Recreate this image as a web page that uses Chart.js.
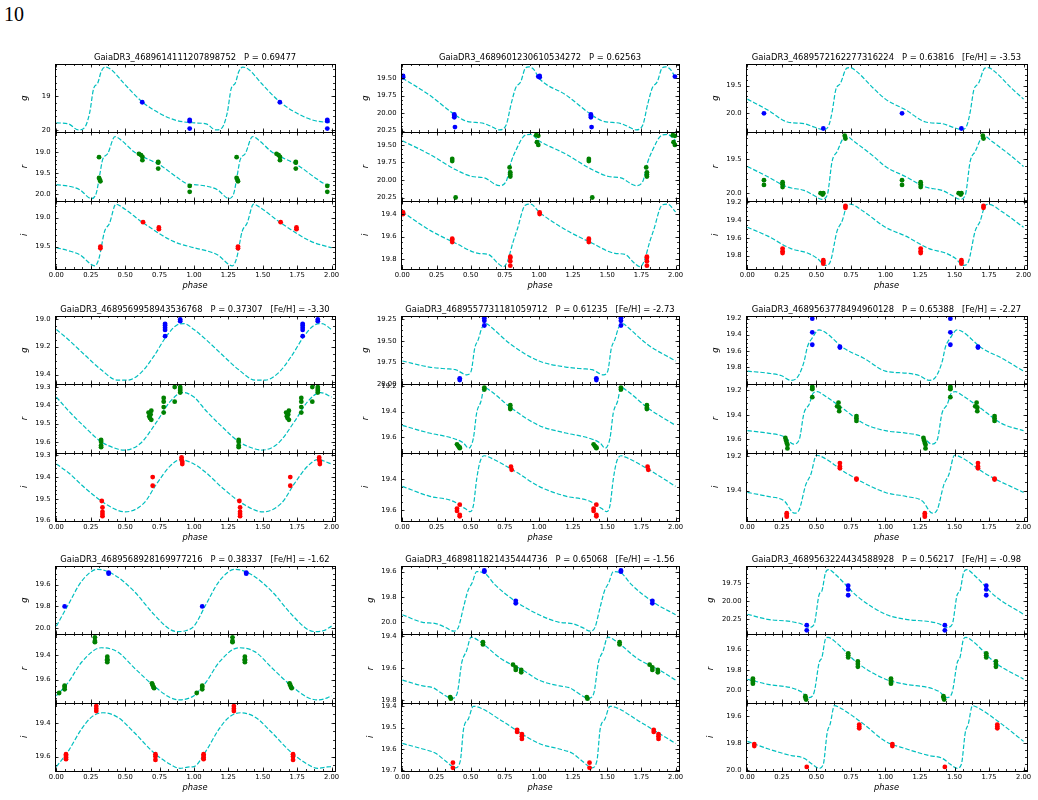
<!DOCTYPE html>
<html>
<head>
<meta charset="utf-8">
<script src="https://cdn.jsdelivr.net/npm/chart.js@4.4.1/dist/chart.umd.min.js"></script>
<style>
  body { margin: 0; background: #fff; width: 1038px; height: 800px; position: relative; overflow: hidden; }
  canvas { position: absolute; }
  #fignum { position: absolute; left: 4px; top: 4px; font: 20px "Liberation Serif", serif; line-height: 20px; color: #000; }
</style>
</head>
<body>
<div id="fignum">10</div>
<script>
// star ids, periods and metallicities (null = not given)
const sourceIds = [
  '4689614111207898752', '4689601230610534272', '4689572162277316224',
  '4689569958943536768', '4689557731181059712', '4689563778494960128',
  '4689568928169977216', '4689811821435444736', '4689563224434588928'
];
const periods = ['0.69477', '0.62563', '0.63816', '0.37307', '0.61235', '0.65388', '0.38337', '0.65068', '0.56217'];
const fehValues = [null, null, '-3.53', '-3.30', '-2.73', '-2.27', '-1.62', '-1.56', '-0.98'];

const phaseTicks = [0, 0.25, 0.5, 0.75, 1, 1.25, 1.5, 1.75, 2];

// magnitude ranges [bright, faint] per panel
const gRange = [[18.05, 20.07], [19.30, 20.275], [19.105, 20.36], [18.98, 19.47], [19.21, 20.0], [19.166, 20.02], [19.43, 20.055], [19.555, 20.095], [19.52, 20.455]];
const rRange = [[18.54, 20.16], [19.32, 20.295], [19.11, 20.11], [19.285, 19.66], [19.184, 19.726], [19.15, 19.71], [19.225, 19.79], [19.387, 19.815], [19.45, 20.12]];
const iRange = [[18.71, 19.885], [19.28, 19.89], [19.18, 19.95], [19.288, 19.602], [19.23, 19.67], [19.18, 19.575], [19.28, 19.686], [19.383, 19.703], [19.4975, 20.005]];

const gTicks = [[19, 20], [19.5, 19.75, 20, 20.25], [19.5, 20], [19, 19.2, 19.4], [19.25, 19.5, 19.75, 20], [19.2, 19.4, 19.6, 19.8], [19.6, 19.8, 20], [19.6, 19.8, 20], [19.75, 20, 20.25]];
const rTicks = [[19, 19.5, 20], [19.5, 19.75, 20, 20.25], [19.5, 20], [19.3, 19.4, 19.5, 19.6], [19.2, 19.4, 19.6], [19.2, 19.4, 19.6], [19.4, 19.6], [19.4, 19.6, 19.8], [19.6, 19.8, 20]];
const iTicks = [[19, 19.5], [19.4, 19.6, 19.8], [19.2, 19.4, 19.6, 19.8], [19.3, 19.4, 19.5, 19.6], [19.4, 19.6], [19.2, 19.4], [19.4, 19.6], [19.4, 19.5, 19.6, 19.7], [19.6, 19.8, 20]];

// template light curves over one cycle, [phase, mag]
const gCurve = [
  [[0,19.79],[0.088,19.82],[0.16,20.0],[0.207,19.92],[0.243,19.47],[0.271,18.77],[0.30,18.62],[0.326,18.27],[0.355,18.14],[0.40,18.22],[0.49,18.62],[0.624,19.17],[0.755,19.52],[0.874,19.72],[1,19.79]],
  [[0,19.50],[0.196,19.74],[0.388,20.03],[0.46,20.11],[0.60,20.15],[0.65,20.19],[0.71,20.24],[0.76,20.17],[0.795,19.88],[0.83,19.64],[0.867,19.55],[0.90,19.36],[0.927,19.34],[0.963,19.38],[1,19.50]],
  [[0,19.75],[0.148,19.95],[0.29,20.17],[0.41,20.20],[0.48,20.26],[0.555,20.31],[0.59,20.23],[0.614,19.98],[0.64,19.58],[0.674,19.46],[0.72,19.18],[0.745,19.17],[0.79,19.24],[0.913,19.55],[1,19.75]],
  [[0,19.077],[0.088,19.15],[0.207,19.26],[0.326,19.366],[0.445,19.44],[0.517,19.44],[0.612,19.39],[0.707,19.27],[0.80,19.125],[0.874,19.046],[0.93,19.035],[1,19.077]],
  [[0,19.73],[0.196,19.80],[0.316,19.82],[0.388,19.83],[0.472,19.89],[0.503,19.85],[0.53,19.58],[0.556,19.48],[0.584,19.34],[0.616,19.30],[0.65,19.34],[0.795,19.54],[1,19.73]],
  [[0,19.855],[0.148,19.88],[0.244,19.91],[0.315,19.97],[0.363,19.93],[0.41,19.74],[0.435,19.55],[0.47,19.44],[0.518,19.34],[0.555,19.36],[0.70,19.57],[0.84,19.69],[1,19.855]],
  [[0,19.98],[0.088,19.78],[0.183,19.57],[0.30,19.46],[0.42,19.51],[0.564,19.66],[0.707,19.87],[0.826,20.01],[0.886,20.03],[0.945,20.02],[1,19.98]],
  [[0,19.94],[0.149,20.0],[0.244,20.01],[0.316,20.04],[0.376,20.07],[0.41,20.04],[0.448,19.88],[0.48,19.75],[0.51,19.69],[0.544,19.60],[0.60,19.61],[0.675,19.70],[0.843,19.845],[1,19.94]],
  [[0,20.18],[0.148,20.25],[0.315,20.28],[0.387,20.31],[0.447,20.36],[0.483,20.32],[0.52,19.91],[0.54,19.86],[0.566,19.61],[0.59,19.57],[0.64,19.64],[0.793,19.93],[1,20.18]]
];
const rCurve = [
  [[0,19.78],[0.11,19.83],[0.17,19.9],[0.255,20.11],[0.29,19.98],[0.315,19.55],[0.335,19.2],[0.374,19.04],[0.426,18.64],[0.469,18.72],[0.564,19.0],[0.755,19.32],[0.874,19.6],[0.96,19.77],[1,19.78]],
  [[0,19.44],[0.196,19.63],[0.388,19.85],[0.51,19.95],[0.60,19.97],[0.71,20.08],[0.76,20.02],[0.795,19.75],[0.83,19.58],[0.90,19.36],[0.94,19.35],[1,19.44]],
  [[0,19.61],[0.148,19.76],[0.29,19.91],[0.41,19.96],[0.48,20.03],[0.54,20.09],[0.578,20.03],[0.614,19.53],[0.65,19.39],[0.693,19.2],[0.72,19.17],[0.77,19.24],[0.913,19.46],[1,19.61]],
  [[0,19.355],[0.088,19.43],[0.207,19.52],[0.326,19.60],[0.445,19.64],[0.49,19.646],[0.61,19.61],[0.73,19.49],[0.826,19.38],[0.92,19.33],[1,19.355]],
  [[0,19.51],[0.196,19.57],[0.364,19.61],[0.448,19.65],[0.484,19.69],[0.52,19.61],[0.544,19.41],[0.575,19.32],[0.60,19.21],[0.65,19.24],[0.795,19.37],[1,19.51]],
  [[0,19.53],[0.148,19.55],[0.268,19.58],[0.335,19.64],[0.375,19.605],[0.41,19.385],[0.447,19.315],[0.478,19.22],[0.507,19.21],[0.555,19.24],[0.70,19.355],[0.84,19.47],[1,19.53]],
  [[0,19.733],[0.088,19.62],[0.183,19.456],[0.326,19.336],[0.445,19.37],[0.564,19.50],[0.707,19.65],[0.826,19.747],[0.898,19.767],[0.97,19.75],[1,19.733]],
  [[0,19.674],[0.149,19.71],[0.232,19.724],[0.268,19.745],[0.364,19.787],[0.40,19.76],[0.436,19.56],[0.47,19.49],[0.503,19.404],[0.556,19.425],[0.723,19.54],[0.89,19.615],[1,19.674]],
  [[0,19.89],[0.148,19.94],[0.315,19.973],[0.387,20.01],[0.447,20.07],[0.483,20.02],[0.52,19.726],[0.54,19.676],[0.566,19.494],[0.583,19.48],[0.64,19.527],[0.793,19.726],[1,19.89]]
];
const iCurve = [
  [[0,19.52],[0.088,19.57],[0.17,19.64],[0.28,19.83],[0.31,19.70],[0.35,19.24],[0.386,19.10],[0.433,18.77],[0.469,18.81],[0.636,19.10],[0.85,19.41],[1,19.52]],
  [[0,19.38],[0.196,19.54],[0.39,19.66],[0.556,19.75],[0.63,19.76],[0.70,19.84],[0.74,19.87],[0.77,19.82],[0.81,19.65],[0.84,19.54],[0.90,19.32],[0.94,19.31],[1,19.38]],
  [[0,19.48],[0.148,19.58],[0.315,19.72],[0.435,19.77],[0.506,19.83],[0.566,19.91],[0.60,19.87],[0.65,19.52],[0.686,19.41],[0.72,19.24],[0.745,19.22],[0.84,19.30],[1,19.48]],
  [[0,19.34],[0.088,19.38],[0.207,19.45],[0.374,19.53],[0.5,19.56],[0.636,19.52],[0.73,19.43],[0.826,19.35],[0.90,19.32],[1,19.34]],
  [[0,19.447],[0.196,19.51],[0.364,19.54],[0.46,19.59],[0.496,19.61],[0.52,19.57],[0.544,19.40],[0.568,19.29],[0.60,19.25],[0.65,19.265],[0.843,19.36],[1,19.447]],
  [[0,19.41],[0.148,19.433],[0.268,19.46],[0.34,19.53],[0.375,19.51],[0.423,19.365],[0.46,19.305],[0.50,19.195],[0.555,19.21],[0.72,19.30],[1,19.41]],
  [[0,19.66],[0.088,19.566],[0.183,19.436],[0.255,19.366],[0.338,19.34],[0.445,19.366],[0.564,19.456],[0.707,19.576],[0.826,19.646],[0.898,19.67],[0.97,19.662],[1,19.66]],
  [[0,19.574],[0.149,19.60],[0.244,19.62],[0.316,19.656],[0.388,19.688],[0.424,19.656],[0.448,19.506],[0.484,19.458],[0.52,19.40],[0.58,19.41],[0.723,19.466],[1,19.574]],
  [[0,19.785],[0.148,19.84],[0.315,19.89],[0.41,19.91],[0.47,19.955],[0.52,19.985],[0.55,19.955],[0.578,19.72],[0.60,19.655],[0.63,19.52],[0.66,19.53],[0.84,19.655],[1,19.785]]
];

// observed epochs, [phase, mag]
const gObs = [
  [[0.624,19.18],[0.969,19.70],[0.969,19.74],[0.969,19.96]],
  [[0.005,19.47],[0.005,19.49],[0.995,19.48],[0.38,20.02],[0.38,20.04],[0.38,20.06],[0.385,20.20]],
  [[0.12,20.01],[0.55,20.29]],
  [[0.79,19.036],[0.79,19.048],[0.79,19.065],[0.79,19.08],[0.79,19.125],[0.9,19.005],[0.9,19.017]],
  [[0.42,19.93],[0.42,19.95],[0.6,19.235],[0.6,19.265],[0.6,19.32]],
  [[0.47,19.2],[0.47,19.37],[0.47,19.525],[0.67,19.55],[0.67,19.56]],
  [[0.06,19.80],[0.38,19.49],[0.38,19.50]],
  [[0.6,19.59],[0.6,19.60],[0.83,19.83],[0.83,19.85]],
  [[0.43,20.33],[0.43,20.40],[0.73,19.79],[0.73,19.84],[0.73,19.92]]
];
const rObs = [
  [[0.31,19.13],[0.31,19.62],[0.315,19.66],[0.32,19.70],[0.60,19.05],[0.615,19.08],[0.625,19.12],[0.625,19.2],[0.74,19.24],[0.74,19.26],[0.74,19.40],[0.969,19.81],[0.969,19.95]],
  [[0.98,19.36],[0.995,19.37],[0.985,19.46],[0.995,19.50],[0.365,19.70],[0.365,19.73],[0.39,20.25],[0.785,19.82],[0.79,19.89],[0.79,19.92],[0.79,19.95]],
  [[0.12,19.81],[0.12,19.88],[0.255,19.84],[0.255,19.87],[0.255,19.91],[0.53,20.0],[0.545,20.02],[0.55,20.0],[0.705,19.16],[0.71,19.2]],
  [[0.325,19.59],[0.325,19.60],[0.325,19.62],[0.325,19.63],[0.67,19.44],[0.675,19.46],[0.68,19.47],[0.685,19.45],[0.69,19.48],[0.69,19.43],[0.78,19.36],[0.78,19.38],[0.78,19.41],[0.78,19.44],[0.86,19.30],[0.86,19.38],[0.9,19.30],[0.9,19.31],[0.9,19.32],[0.9,19.33]],
  [[0.6,19.21],[0.6,19.225],[0.79,19.35],[0.79,19.37],[0.79,19.38],[0.4,19.66],[0.41,19.675],[0.42,19.685],[0.42,19.69]],
  [[0.47,19.17],[0.47,19.18],[0.47,19.19],[0.47,19.255],[0.65,19.33],[0.66,19.30],[0.665,19.34],[0.665,19.37],[0.79,19.41],[0.79,19.43],[0.79,19.45],[0.275,19.59],[0.28,19.61],[0.285,19.63],[0.29,19.645],[0.29,19.675]],
  [[0.02,19.71],[0.06,19.65],[0.06,19.66],[0.06,19.68],[0.28,19.25],[0.28,19.28],[0.28,19.29],[0.37,19.41],[0.37,19.43],[0.37,19.44],[0.37,19.455],[0.695,19.63],[0.70,19.645],[0.705,19.66],[0.71,19.67]],
  [[0.35,19.78],[0.355,19.79],[0.59,19.436],[0.59,19.45],[0.81,19.577],[0.83,19.594],[0.83,19.61],[0.87,19.61],[0.87,19.625]],
  [[0.04,19.884],[0.04,19.90],[0.04,19.917],[0.04,19.934],[0.42,20.056],[0.42,20.07],[0.425,20.09],[0.73,19.636],[0.73,19.656],[0.73,19.676],[0.80,19.716],[0.80,19.742],[0.80,19.768]]
];
const iObs = [
  [[0.32,19.50],[0.32,19.53],[0.63,19.08],[0.745,19.17],[0.745,19.2]],
  [[0.005,19.385],[0.005,19.40],[0.365,19.62],[0.365,19.63],[0.365,19.65],[0.79,19.78],[0.79,19.79],[0.79,19.82],[0.79,19.86]],
  [[0.255,19.72],[0.255,19.75],[0.255,19.77],[0.55,19.85],[0.55,19.87],[0.55,19.89],[0.71,19.24],[0.71,19.26]],
  [[0.33,19.51],[0.335,19.54],[0.335,19.56],[0.335,19.57],[0.335,19.58],[0.7,19.40],[0.7,19.44],[0.91,19.31],[0.91,19.32],[0.915,19.33],[0.915,19.34]],
  [[0.795,19.32],[0.8,19.34],[0.4,19.59],[0.4,19.605],[0.42,19.565],[0.42,19.63],[0.42,19.64]],
  [[0.285,19.53],[0.285,19.54],[0.285,19.55],[0.67,19.24],[0.67,19.26],[0.67,19.27],[0.79,19.33],[0.79,19.335]],
  [[0.07,19.586],[0.07,19.596],[0.07,19.606],[0.07,19.616],[0.29,19.30],[0.29,19.316],[0.29,19.33],[0.72,19.586],[0.72,19.60],[0.72,19.62]],
  [[0.37,19.664],[0.37,19.688],[0.84,19.51],[0.84,19.52],[0.875,19.53],[0.875,19.54],[0.875,19.553]],
  [[0.05,19.805],[0.05,19.82],[0.43,19.975],[0.81,19.66],[0.81,19.675],[0.81,19.6875]]
];

// ---- layout ----
const FONT = '"DejaVu Sans", sans-serif';
const TICK_SIZE = 6.8, LABEL_SIZE = 8.3, TITLE_SIZE = 8.4;
const colLeft = [55, 401, 746], colWidth = [280, 278, 281], rowTop = [64, 316, 566];
const PLOT_H = 205, AXIS_W = 52, TITLE_H = 16, XAXIS_H = 30, PAD_R = 12;
const X_MIN = -0.01, X_MAX = 2.025;

const bands = [
  { id: 'yg', label: 'g', color: '#0000ff', curve: gCurve, obs: gObs, range: gRange, ticks: gTicks, weight: 3 },
  { id: 'yr', label: 'r', color: '#008000', curve: rCurve, obs: rObs, range: rRange, ticks: rTicks, weight: 2 },
  { id: 'yi', label: 'i', color: '#ff0000', curve: iCurve, obs: iObs, range: iRange, ticks: iTicks, weight: 1 }
];

function decimals(ticks) {
  const step = Math.round(Math.abs(ticks[1] - ticks[0]) * 100) / 100;
  const s = String(step);
  return s.includes('.') ? s.split('.')[1].length : 0;
}

// matplotlib-like auto minor step
function minorStep(major) {
  const e = Math.pow(10, Math.floor(Math.log10(major) + 1e-9));
  const m = Math.round(major / e * 10) / 10;
  return major / ((m === 1 || m === 5 || m === 10) ? 5 : 4);
}

// light curve folded twice
function twoCycles(pairs) {
  const pts = pairs.map(([p, m]) => ({ x: p, y: m }));
  pairs.forEach(([p, m]) => { if (p > 0) pts.push({ x: p + 1, y: m }); });
  return pts;
}
function obsCycles(pairs) {
  const pts = [];
  pairs.forEach(([p, m]) => {
    pts.push({ x: p, y: m });
    if (p + 1 <= X_MAX) pts.push({ x: p + 1, y: m });
  });
  return pts;
}

const measure = document.createElement('canvas').getContext('2d');
measure.font = TICK_SIZE + 'px ' + FONT;

const framePlugin = {
  id: 'frame',
  afterDatasetsDraw(chart) {
    const ctx = chart.ctx;
    const xs = chart.scales.x;
    const left = Math.round(xs.left), right = Math.round(xs.right);
    const seg = (x1, y1, x2, y2) => { ctx.beginPath(); ctx.moveTo(x1, y1); ctx.lineTo(x2, y2); ctx.stroke(); };
    const marks = (scale) => {
      const major = scale.ticks.map(t => t.value);
      const step = minorStep(Math.abs(major[1] - major[0]));
      const lo = Math.min(scale.min, scale.max), hi = Math.max(scale.min, scale.max);
      const minor = [];
      for (let k = Math.ceil(lo / step - 1e-6); k * step <= hi + 1e-9; k++) minor.push(k * step);
      return { major, minor };
    };
    const xm = marks(xs);
    ctx.save();
    ctx.strokeStyle = '#000';
    for (const b of bands) {
      const ys = chart.scales[b.id];
      const top = Math.round(ys.top), bottom = Math.round(ys.bottom);
      const ym = marks(ys);
      ctx.lineWidth = 0.8;
      for (const [list, len] of [[xm.minor, 2], [xm.major, 3.5]]) {
        for (const v of list) {
          const px = Math.round(xs.getPixelForValue(v)) + 0.5;
          if (px < left || px > right + 1) continue;
          seg(px, bottom, px, bottom - len);
          seg(px, top, px, top + len);
        }
      }
      for (const [list, len] of [[ym.minor, 2], [ym.major, 3.5]]) {
        for (const v of list) {
          const py = Math.round(ys.getPixelForValue(v)) + 0.5;
          if (py < top || py > bottom + 1) continue;
          seg(left, py, left + len, py);
          seg(right, py, right - len, py);
        }
      }
      ctx.lineWidth = 1;
      ctx.strokeRect(left + 0.5, top + 0.5, right - left, bottom - top);
    }
    ctx.restore();
  }
};

for (let p = 0; p < 9; p++) {
  const col = p % 3, row = Math.floor(p / 3);
  const L = colLeft[col], W = colWidth[col], T = rowTop[row];

  const canvas = document.createElement('canvas');
  canvas.width = W + AXIS_W + PAD_R;
  canvas.height = TITLE_H + PLOT_H + XAXIS_H;
  canvas.style.left = (L - AXIS_W) + 'px';
  canvas.style.top = (T - TITLE_H) + 'px';
  document.body.appendChild(canvas);

  let title = 'GaiaDR3_' + sourceIds[p] + '   P = ' + periods[p];
  if (fehValues[p] !== null) title += '   [Fe/H] = ' + fehValues[p];

  // widest tick label decides where the band names sit
  let maxW = 0;
  bands.forEach(b => {
    const d = decimals(b.ticks[p]);
    b.ticks[p].forEach(v => { maxW = Math.max(maxW, measure.measureText(v.toFixed(d)).width); });
  });
  const labelPad = Math.max(0, AXIS_W - 4.5 - maxW - 11 - LABEL_SIZE * 0.6);

  const datasets = [];
  const scales = {
    x: {
      type: 'linear', position: 'bottom', min: X_MIN, max: X_MAX, bounds: 'data',
      grid: { display: false, drawTicks: false }, border: { display: false },
      afterBuildTicks: s => { s.ticks = phaseTicks.map(v => ({ value: v })); },
      afterFit: s => { s.height = XAXIS_H; },
      ticks: { autoSkip: false, maxRotation: 0, padding: 2.4, color: '#000',
               font: { family: FONT, size: TICK_SIZE }, callback: v => v.toFixed(2) },
      title: { display: true, text: 'phase', color: '#000', padding: { top: 0, bottom: 8 },
               font: { family: FONT, size: LABEL_SIZE, style: 'italic' } }
    }
  };

  bands.forEach(b => {
    const ticks = b.ticks[p];
    const dec = decimals(ticks);
    scales[b.id] = {
      type: 'linear', axis: 'y', position: 'left', stack: 'bands', stackWeight: 1, weight: b.weight,
      reverse: true, min: b.range[p][0], max: b.range[p][1], bounds: 'data',
      grid: { display: false, drawTicks: false }, border: { display: false },
      afterBuildTicks: s => { s.ticks = ticks.map(v => ({ value: v })); },
      afterFit: s => { s.width = AXIS_W; },
      ticks: { autoSkip: false, padding: 4.5, color: '#000',
               font: { family: FONT, size: TICK_SIZE }, callback: v => v.toFixed(dec) },
      title: { display: true, text: b.label, color: '#000', padding: { top: labelPad, bottom: 0 },
               font: { family: FONT, size: LABEL_SIZE, style: 'italic' } }
    };
    datasets.push({
      data: obsCycles(b.obs[p]), yAxisID: b.id, xAxisID: 'x', order: 0,
      showLine: false, pointRadius: 2.4, pointBorderWidth: 0, backgroundColor: b.color
    });
    datasets.push({
      data: twoCycles(b.curve[p]), yAxisID: b.id, xAxisID: 'x', order: 1,
      showLine: true, pointRadius: 0, borderColor: '#00bfbf', borderWidth: 1.2,
      borderDash: [4.5, 2], cubicInterpolationMode: 'monotone', fill: false
    });
  });

  new Chart(canvas.getContext('2d'), {
    type: 'scatter',
    data: { datasets },
    options: {
      responsive: false, animation: false, devicePixelRatio: 1,
      layout: { padding: { left: 0, right: PAD_R, top: 0, bottom: 0 } },
      plugins: {
        legend: { display: false },
        tooltip: { enabled: false },
        title: { display: true, text: title, fullSize: false, color: '#000',
                 padding: { top: 4.5, bottom: 1.5 },
                 font: { family: FONT, size: TITLE_SIZE, weight: 'normal', lineHeight: '10px' } }
      },
      scales
    },
    plugins: [framePlugin]
  });
}
</script>
</body>
</html>
